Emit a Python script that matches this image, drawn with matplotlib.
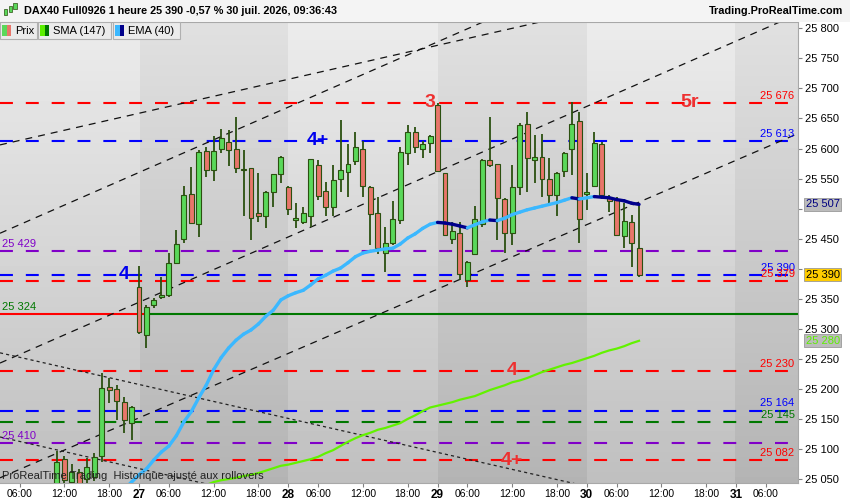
import matplotlib
matplotlib.use("Agg")
import matplotlib.pyplot as plt
from matplotlib.patches import Rectangle
import numpy as np

plt.rcParams['font.family'] = ['Liberation Sans', 'DejaVu Sans']

# bar index: 20 hourly bars a day (02:00 .. 21:00), bar 0 = 26 juil. 02:00
first_bar = 9
opens = [25040, 25083, 25045, 25062, 25050, 25054, 25089, 25203, 25199, 25178, 25144,
         25369, 25290, 25340, 25353, 25356, 25409, 25449, 25524, 25474, 25596,
         25564, 25599, 25611, 25600, 25566, 25567, 25492, 25487, 25528, 25558,
         25536, 25481, 25477, 25488, 25572, 25529, 25503, 25549, 25561, 25580,
         25600, 25536, 25492, 25426, 25443, 25481, 25592, 25627, 25600, 25609,
         25673, 25559, 25449, 25459, 25381, 25424, 25475, 25581, 25574, 25516,
         25459, 25536, 25641, 25581, 25586, 25549, 25523, 25563, 25599, 25645,
         25524, 25538, 25607, 25520, 25514, 25454, 25478, 25434]
highs = [25097, 25088, 25075, 25066, 25085, 25093, 25226, 25218, 25207, 25187, 25171,
         25405, 25340, 25352, 25387, 25426, 25464, 25538, 25569, 25598, 25603,
         25620, 25632, 25631, 25652, 25598, 25568, 25559, 25529, 25558, 25588,
         25538, 25509, 25502, 25583, 25581, 25545, 25572, 25647, 25607, 25627,
         25613, 25537, 25519, 25470, 25513, 25603, 25639, 25636, 25613, 25623,
         25676, 25560, 25478, 25478, 25412, 25504, 25583, 25652, 25575, 25517,
         25572, 25643, 25661, 25622, 25624, 25584, 25561, 25595, 25678, 25661,
         25559, 25628, 25611, 25522, 25520, 25509, 25489, 25506]
lows = [25030, 25040, 25038, 25035, 25044, 25046, 25078, 25176, 25148, 25126, 25115,
        25291, 25268, 25334, 25349, 25353, 25408, 25443, 25474, 25453, 25552,
        25546, 25592, 25571, 25560, 25487, 25448, 25477, 25467, 25502, 25543,
        25489, 25467, 25474, 25469, 25514, 25487, 25487, 25528, 25520, 25572,
        25519, 25439, 25424, 25395, 25440, 25475, 25572, 25593, 25584, 25592,
        25562, 25455, 25441, 25382, 25369, 25422, 25470, 25569, 25448, 25426,
        25439, 25523, 25528, 25542, 25519, 25506, 25488, 25553, 25556, 25442,
        25498, 25536, 25520, 25495, 25454, 25434, 25403, 25386]
closes = [25079, 25048, 25062, 25042, 25070, 25086, 25201, 25198, 25180, 25148, 25170,
          25295, 25336, 25348, 25356, 25409, 25441, 25523, 25476, 25595, 25565,
          25596, 25617, 25598, 25567, 25564, 25484, 25488, 25528, 25557, 25586,
          25499, 25484, 25492, 25582, 25521, 25503, 25548, 25564, 25575, 25603,
          25538, 25491, 25434, 25442, 25482, 25594, 25628, 25603, 25607, 25621,
          25563, 25456, 25462, 25391, 25411, 25482, 25581, 25573, 25518, 25459,
          25536, 25639, 25584, 25586, 25550, 25523, 25560, 25592, 25640, 25482,
          25528, 25609, 25523, 25513, 25456, 25480, 25443, 25390]

ema_start = 18
ema40 = [25033, 25045, 25057, 25067, 25082, 25095, 25105, 25122, 25145, 25162,
         25185, 25206, 25232, 25252, 25268, 25281, 25291, 25298, 25308, 25321,
         25331, 25348, 25355, 25360, 25364, 25373, 25383, 25389, 25396, 25401,
         25410, 25420, 25426, 25429, 25431, 25433, 25434, 25441, 25451, 25458,
         25467, 25474, 25477, 25476, 25474, 25471, 25468, 25473, 25478, 25481,
         25480, 25484, 25490, 25494, 25498, 25501, 25504, 25507, 25510, 25514,
         25518, 25516, 25518, 25520, 25519, 25518, 25515, 25513, 25509, 25507]

sma_start = 29
sma147 = [25040, 25045, 25048, 25050, 25052, 25055, 25057, 25060, 25064, 25068,
          25072, 25074, 25077, 25080, 25083, 25087, 25093, 25098, 25105, 25112,
          25118, 25123, 25127, 25132, 25135, 25139, 25143, 25150, 25156, 25163,
          25169, 25172, 25175, 25178, 25182, 25185, 25188, 25193, 25198, 25202,
          25206, 25211, 25214, 25218, 25223, 25228, 25232, 25236, 25240, 25243,
          25247, 25251, 25255, 25260, 25264, 25267, 25271, 25276, 25280]

levels = [25676, 25613, 25429, 25390, 25379, 25230, 25164, 25145, 25110, 25082]
level_colors = ['#ff0000', '#0000ff', '#8000c8', '#0000ff', '#ff0000',
                '#ff0000', '#0000ff', '#007800', '#8000c8', '#ff0000']
right_labelled = [25676, 25613, 25390, 25379, 25230, 25164, 25145, 25082]
left_labels = [(25429, '25 429', '#8000c8'), (25324, '25 324', '#007800'),
               (25110, '25 410', '#8000c8')]
support = 25324
support_switch = 20.8

# trend lines (bar, price) -> (bar, price)
rising = [(1.37, 25606, 110, 25913), (1.37, 25459, 110, 26049),
          (1.37, 25243, 110, 25833), (1.37, 25052, 110, 25634)]
falling = [(1.37, 25260, 110, 24953), (1.37, 25120, 110, 24813)]

waves = [('3', 59.0, 25676, '#ee3030'), ('5r', 93.8, 25677, '#ee3030'),
         ('4+', 44.0, 25614, '#0000ee'), ('4', 18.0, 25391, '#0000ee'),
         ('4', 70.0, 25231, '#ee3030'), ('4+', 70.0, 25081, '#ee3030')]

days = ['26', '27', '28', '29', '30', '31']
hours = [('06:00', 4), ('12:00', 10), ('18:00', 16)]

W, H = 850, 500
fig = plt.figure(figsize=(W / 100, H / 100), dpi=100)
fig.patch.set_facecolor('white')


def fx(px):
    return px / W


def fy(py):
    return 1 - py / H


def fig_rect(x0, y0, x1, y1, **kw):
    fig.add_artist(Rectangle((fx(x0), fy(y1)), fx(x1) - fx(x0), fy(y0) - fy(y1),
                             transform=fig.transFigure, **kw))


def spaced(v):
    return f'{v:,}'.replace(',', ' ')


ax = fig.add_axes([0, fy(483), fx(798), fy(21.7) - fy(483)])
x_lo, x_hi = 1.37, 108.3
y_lo, y_hi = 25043.4, 25811

# gradient background with alternate day bands
cols = np.linspace(x_lo, x_hi, 800)
rows = np.linspace(0, 1, 460)[:, None]
dark = ((cols // 20) % 2 == 1)[None, :]
bg = 0.925 - 0.175 * rows - 0.045 * dark
ax.imshow(bg, cmap='gray', vmin=0, vmax=1, extent=[x_lo, x_hi, y_lo, y_hi],
          aspect='auto', origin='upper', zorder=0, interpolation='nearest')

for v, c in zip(levels, level_colors):
    ax.axhline(v, color=c, lw=1.5, dashes=(6.2, 6.2), zorder=2)
ax.plot([x_lo, support_switch], [support, support], color='#ff0000', lw=1.5, zorder=2)
ax.plot([support_switch, x_hi], [support, support], color='#007800', lw=1.5, zorder=2)

for x0, p0, x1, p1 in rising:
    ax.plot([x0, x1], [p0, p1], color='#111111', lw=0.9, dashes=(5.6, 4.8), zorder=2)
for x0, p0, x1, p1 in falling:
    ax.plot([x0, x1], [p0, p1], color='#222222', lw=0.9, dashes=(2.5, 2.5), zorder=2)

# candles
xb = np.arange(first_bar, first_bar + len(opens))
o = np.array(opens)
c = np.array(closes)
up = c >= o
edge = '#2b5010'
ax.vlines(xb, lows, highs, color=edge, lw=1.3, zorder=4)
body_h = np.maximum(np.abs(c - o), 2)
ax.bar(xb, body_h, bottom=np.minimum(o, c), width=0.66,
       color=np.where(up, '#5ad85a', '#e8766a'), edgecolor=edge, linewidth=0.8, zorder=4)

# moving averages
xs = np.arange(sma_start, sma_start + len(sma147))
ax.plot(xs, sma147, color='#62f200', lw=1.6, zorder=5)
xe = np.arange(ema_start, ema_start + len(ema40))
for i in range(len(ema40) - 1):
    col = '#3bb8ff' if ema40[i + 1] >= ema40[i] else '#00008b'
    ax.plot(xe[i:i + 2], ema40[i:i + 2], color=col, lw=2.4, zorder=5,
            solid_capstyle='round')

for txt, xw, pw, col in waves:
    ax.text(xw, pw, txt, color=col, fontsize=14, fontweight='bold',
            ha='center', va='center', zorder=6)

trans = ax.get_yaxis_transform()
for v, col in zip(levels, level_colors):
    if v in right_labelled:
        ax.annotate(spaced(v), xy=(1, v), xycoords=trans,
                    xytext=(-2.5, 1.5), textcoords='offset points', ha='right',
                    va='bottom', color=col, fontsize=8, zorder=6)
for v, txt, col in left_labels:
    ax.annotate(txt, xy=(0, v), xycoords=trans, xytext=(1.5, 1.5),
                textcoords='offset points', ha='left', va='bottom',
                color=col, fontsize=8, zorder=6)

ax.set_xlim(x_lo, x_hi)
ax.set_ylim(y_lo, y_hi)

# last value boxes on price scale
last_boxes = [(ema40[-1], '#bcbcbc', '#000080'), (closes[-1], '#ffcc00', 'black'),
              (sma147[-1], '#bcbcbc', '#5cf000')]

# axes, ticks (labels under a value box are hidden by it)
ax.yaxis.tick_right()
yt = np.arange(25050, 25801, 50)
ylabels = [spaced(v) if all(abs(v - b[0]) > 12 for b in last_boxes) else '' for v in yt]
ax.set_yticks(yt, ylabels)
ax.tick_params(axis='y', length=3, pad=2.2, labelsize=8, color='#808080')

xt, xl = [], []
for d, day in enumerate(days):
    if d > 0:
        xt.append(d * 20)
        xl.append(day)
    for lab, off in hours:
        if d * 20 + off < x_hi:
            xt.append(d * 20 + off)
            xl.append(lab)
ax.set_xticks(xt, xl)
ax.tick_params(axis='x', length=3, pad=1.5, labelsize=7.5, color='#808080')
for t in ax.get_xticklabels():
    if ':' not in t.get_text():
        t.set_fontweight('bold')
        t.set_fontsize(8.5)

ax.spines['left'].set_visible(False)
for s in ['top', 'right', 'bottom']:
    ax.spines[s].set_color('#a8a8a8')

for v, fc, tc in last_boxes:
    ax.annotate(spaced(v), xy=(1, v), xycoords=trans,
                xytext=(5.5, 0), textcoords='offset points', ha='left', va='center',
                fontsize=8, color=tc, annotation_clip=False, zorder=7,
                bbox=dict(boxstyle='square,pad=0.15', fc=fc, ec='#999999', lw=0.6))

# header strip
fig_rect(0, 0, 850, 21.7, fc='#f4f4f4', ec='none', zorder=1)
for cx, b0, b1, w0, w1 in [(5, 9, 15, 7, 17), (10, 6, 12, 4, 14), (15, 3, 9, 1, 11)]:
    fig_rect(cx - 0.4, w0, cx + 0.4, w1, fc=edge, ec='none', zorder=2)
    fig_rect(cx - 1.5, b0, cx + 1.5, b1, fc='#5ad85a', ec=edge, lw=0.5, zorder=3)
fig.text(fx(24), fy(11), 'DAX40 Full0926 1 heure 25 390 -0,57 % 30 juil. 2026, 09:36:43',
         fontsize=7.8, fontweight='bold', va='center', ha='left')
fig.text(fx(843), fy(11), 'Trading.ProRealTime.com', fontsize=7.8, fontweight='bold',
         va='center', ha='right')

# legend boxes
legend = [('Prix', '#5ad85a', '#e8766a', 0, 37),
          ('SMA (147)', '#5cf000', '#007800', 38, 111),
          ('EMA (40)', '#3bb8ff', '#00008b', 113, 180)]
for name, c1, c2, x0, x1 in legend:
    fig_rect(x0, 22, x1, 39, fc='#ebebeb', ec='#b0b0b0', lw=0.8, zorder=2)
    fig_rect(x0 + 2, 25, x0 + 6.5, 36, fc=c1, ec='none', zorder=3)
    fig_rect(x0 + 6.5, 25, x0 + 11, 36, fc=c2, ec='none', zorder=3)
    fig.text(fx(x0 + 15), fy(30.5), name, fontsize=8, va='center', ha='left', zorder=4)

fig.text(fx(2), fy(476), 'ProRealTime Trading  Historique ajusté aux rollovers',
         fontsize=8, color='#222222', va='center', ha='left')

fig.savefig('out.png', dpi=100)
